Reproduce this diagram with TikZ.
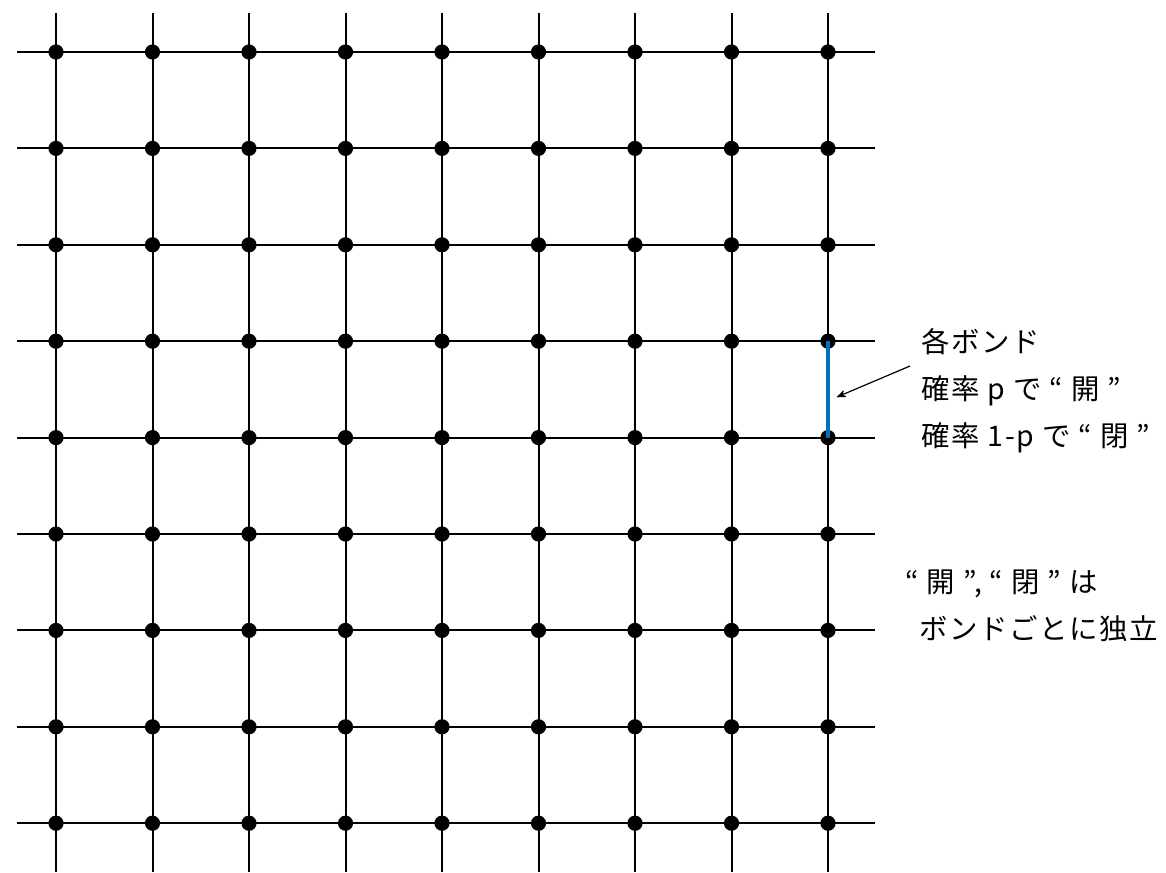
\documentclass[tikz,border=0pt]{standalone}
\usepackage{fontspec}
\newfontfamily\jp[LetterSpace=6]{Noto Sans CJK JP}
\usetikzlibrary{arrows,positioning}
\definecolor{bondblue}{RGB}{0,114,188}

\begin{document}
\begin{tikzpicture}[x=0.5pt,y=-0.5pt]
           \tikzset{site/.style={circle,fill=black,inner sep=0pt,minimum size=7.6pt},
                    lbl/.style={font=\jp\fontsize{14.2}{23.5}\selectfont,align=left,anchor=west}}
           \useasboundingbox (0,0) rectangle (1166,872);
           % lattice lines
           \foreach \j in {0,...,8} {
               \coordinate (L\j) at (17,{52+96.4*\j});
               \coordinate (R\j) at (875,{52+96.4*\j});
               \draw [line width=1pt] (L\j) -- (R\j);
           }
           \foreach \i in {0,...,8} {
               \coordinate (T\i) at ({56+96.5*\i},13);
               \coordinate (B\i) at ({56+96.5*\i},872);
               \draw [line width=1pt] (T\i) -- (B\i);
           }
           % sites
           \foreach \i in {0,...,8} {
               \foreach \j in {0,...,8} {
                   \node [site] (v\i\j) at ({56+96.5*\i},{52+96.4*\j}) {};
               }
           }
           \draw [bondblue, line width=1.6pt] (v83.center) -- (v84.center);
           \node [lbl] (note) at (914,391) {各ボンド\\確率 p で “ 開 ”\\確率 1-p で “ 閉 ”};
           \node [lbl] (indep) at (898,606) {“ 開 ”, “ 閉 ” は\\\hspace{7pt}ボンドごとに独立};
           \coordinate (tail) at (910,366);
           \coordinate (aim) at (837,397);
           \draw [-stealth', line width=0.6pt] (tail) -- (aim);
      \end{tikzpicture}
\end{document}
